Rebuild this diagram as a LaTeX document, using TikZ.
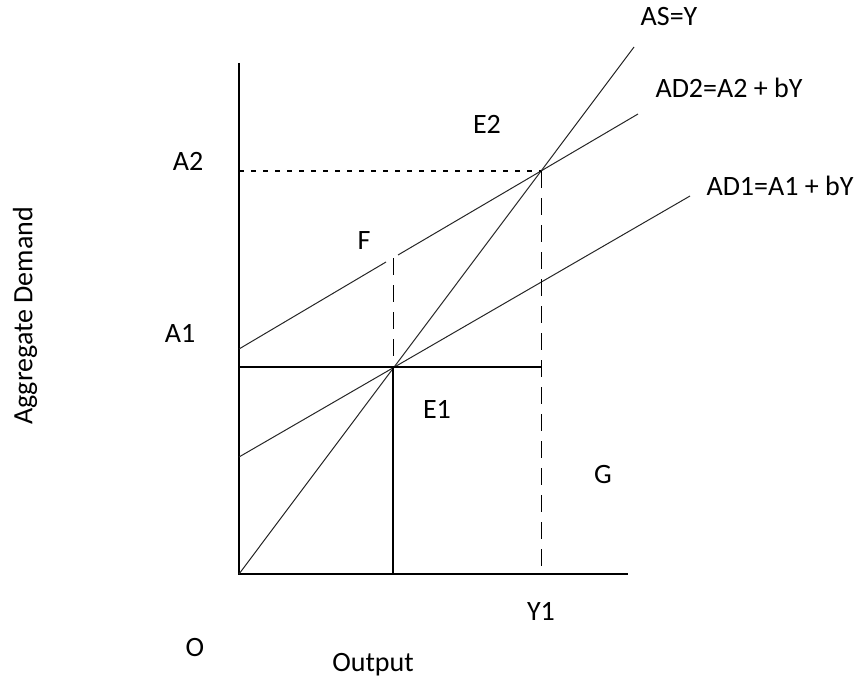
\documentclass[tikz,border=0pt]{standalone}
\usepackage{fontspec}
\setmainfont{Carlito}
\usepackage{tikz}

\tikzset{
  curve/.style={line width=0.5pt, black!85},
  axisline/.style={line width=0.8pt},
  hguide/.style={line width=0.8pt, dash pattern=on 2.5pt off 3.5pt},
  vguide/.style={line width=0.5pt, dash pattern=on 8.5pt off 5pt},
  lbl/.style={font=\fontsize{14}{16}\selectfont, inner sep=0pt}
}

\begin{document}
\begin{tikzpicture}[x=0.5pt,y=-0.5pt]
                        \useasboundingbox (0,0) rectangle (854,679);
                        % Points
                        \coordinate (O) at (239,574);
                        \coordinate (xend) at (628,574);
                        \coordinate (yend) at (239,63);
                        \coordinate (E1) at (393,367);
                        \coordinate (E2) at (541,171);
                        \coordinate (ASend) at (634,47);
                        \coordinate (AD1start) at (239,457);
                        \coordinate (AD1end) at (690,196);
                        \coordinate (AD2start) at (239,349);
                        \coordinate (AD2gapa) at (386,262);
                        \coordinate (AD2gapb) at (398,255);
                        \coordinate (AD2end) at (638,114);
                        \coordinate (Ftop) at (393,258);
                        \coordinate (E1foot) at (393,574);
                        \coordinate (Y1foot) at (541,574);
                        \coordinate (A1left) at (239,367);
                        \coordinate (A2left) at (239,171);

                        % Labels
                        \node[lbl] (as) at (669,17) {AS=Y};
                        \node[lbl] (ad2) at (729,88) {AD2=A2 + bY};
                        \node[lbl] (ad1) at (780,186) {AD1=A1 + bY};
                        \node[lbl] (e2) at (487,124) {E2};
                        \node[lbl] (a2) at (188,161) {A2};
                        \node[lbl] (f) at (364,241) {F};
                        \node[lbl] (a1) at (180,333) {A1};
                        \node[lbl] (e1) at (437,409) {E1};
                        \node[lbl] (g) at (603,475) {G};
                        \node[lbl] (y1) at (541,611) {Y1};
                        \node[lbl] (o) at (195,647) {O};
                        \node[lbl] (out) at (373,665) {Output};
                        \node[lbl, rotate=90] (ad) at (25,316) {Aggregate Demand};

                        % Axes
                        \draw[axisline] (yend) -- (O) -- (xend);

                        % Curves
                        \draw[curve] (O) -- (ASend);
                        \draw[curve] (AD1start) -- (AD1end);
                        \draw[curve] (AD2start) -- (AD2gapa);
                        \draw[curve] (AD2gapb) -- (AD2end);

                        % Guides
                        \draw[axisline] (A1left) -- (E1) -- (541,367);
                        \draw[axisline] (E1) -- (E1foot);
                        \draw[vguide] (Ftop) -- (E1);
                        \draw[hguide] (A2left) -- (E2);
                        \draw[vguide] (E2) -- (Y1foot);
                    \end{tikzpicture}
\end{document}
